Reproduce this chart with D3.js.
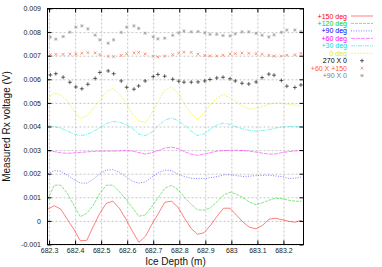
<!DOCTYPE html>
<html>
<head>
<meta charset="utf-8">
<script src="https://cdn.jsdelivr.net/npm/d3@7/dist/d3.min.js"></script>
<style>
body { margin: 0; background: #fff; }
svg { display: block; font-family: "Liberation Sans", Arial, sans-serif; }
.grid line { stroke: #b8b8b8; stroke-dasharray: 2,2; stroke-width: 0.8; }
.grid path { display: none; }
.axis path { display: none; }
.axis line { stroke: #000; }
.axis text { font-size: 7px; fill: #222; }
.frame { fill: none; stroke: #000; stroke-width: 1; }
.axis-label { font-size: 10px; fill: #111; }
.legend text { font-size: 7px; }
</style>
</head>
<body>
<svg id="chart" width="382" height="267"></svg>
<script>
// depths for the line series (m)
const depth = [682.295, 682.32, 682.345, 682.37, 682.395, 682.42, 682.445, 682.47, 682.495, 682.52,
    682.545, 682.57, 682.595, 682.62, 682.645, 682.67, 682.695, 682.72, 682.745, 682.77,
    682.795, 682.82, 682.845, 682.87, 682.895, 682.92, 682.945, 682.97, 682.995, 683.02,
    683.045, 683.07, 683.095, 683.12, 683.145, 683.17, 683.195, 683.22, 683.245, 683.27];

// depths for the point series (m)
const pointDepth = [682.305, 682.326, 682.354, 682.380, 682.403, 682.426, 682.449, 682.477, 682.495, 682.527,
    682.548, 682.577, 682.598, 682.626, 682.644, 682.669, 682.700, 682.718, 682.744, 682.775,
    682.798, 682.818, 682.846, 682.872, 682.898, 682.918, 682.944, 682.968, 682.995, 683.015,
    683.041, 683.067, 683.095, 683.118, 683.144, 683.164, 683.192, 683.213, 683.244, 683.267];

// measured voltages (V)
const deg150 = [0.000495, 0.000643, 0.000495, 0.000070, -0.000355, -0.000843, -0.000822, -0.000227, 0.000325, 0.000749,
    0.000834, 0.000537, 0.000070, -0.000439, -0.000907, -0.000652, -0.000142, 0.000325, 0.000792, 0.000834,
    0.000580, 0.000113, -0.000312, -0.000567, -0.000503, -0.000185, 0.000197, 0.000537, 0.000537, 0.000240,
    -0.000057, -0.000270, -0.000333, -0.000185, 0.000070, 0.000113, 0.000049, -0.000015, -0.000057, 0.000028];

const deg120 = [0.000919, 0.001514, 0.001514, 0.001174, 0.000665, 0.000176, 0.000325, 0.000665, 0.001174, 0.001514,
    0.001514, 0.001238, 0.000919, 0.000558, 0.000197, 0.000261, 0.000622, 0.001004, 0.001386, 0.001514,
    0.001323, 0.001004, 0.000707, 0.000473, 0.000452, 0.000558, 0.000813, 0.001089, 0.001217, 0.001132,
    0.000983, 0.000792, 0.000686, 0.000771, 0.000877, 0.000962, 0.000941, 0.000877, 0.000834, 0.000834];

const deg90 = [0.002002, 0.002130, 0.002108, 0.001938, 0.001747, 0.001607, 0.001599, 0.001769, 0.002002, 0.002151,
    0.002172, 0.002066, 0.001875, 0.001684, 0.001599, 0.001662, 0.001854, 0.002045, 0.002151, 0.002130,
    0.001981, 0.001875, 0.001811, 0.001790, 0.001798, 0.001832, 0.001875, 0.001947, 0.001960, 0.001917,
    0.001883, 0.001896, 0.001917, 0.001930, 0.001938, 0.001904, 0.001875, 0.001798, 0.001811, 0.001862];

const deg60 = [0.002979, 0.002936, 0.002885, 0.002864, 0.002881, 0.002902, 0.002924, 0.002945, 0.002958, 0.002958,
    0.002958, 0.002966, 0.002979, 0.002958, 0.002894, 0.002830, 0.002894, 0.002979, 0.003085, 0.003127,
    0.003064, 0.002936, 0.002830, 0.002779, 0.002830, 0.002894, 0.002958, 0.002979, 0.002992, 0.002992,
    0.002979, 0.002958, 0.002915, 0.002864, 0.002830, 0.002839, 0.002894, 0.002936, 0.002966, 0.002987];

const deg30 = [0.004040, 0.003998, 0.003934, 0.003807, 0.003679, 0.003616, 0.003658, 0.003786, 0.003955, 0.004125,
    0.004210, 0.004189, 0.004083, 0.003913, 0.003679, 0.003616, 0.003764, 0.004040, 0.004274, 0.004359,
    0.004253, 0.004062, 0.003807, 0.003616, 0.003679, 0.003892, 0.004062, 0.004146, 0.004083, 0.003977,
    0.003892, 0.003828, 0.003807, 0.003828, 0.003870, 0.003934, 0.003977, 0.003998, 0.003998, 0.003977];

const deg0 = [0.005187, 0.005420, 0.005335, 0.005081, 0.004656, 0.004338, 0.004444, 0.004741, 0.005123, 0.005463,
    0.005611, 0.005378, 0.004996, 0.004529, 0.004231, 0.004168, 0.004571, 0.005081, 0.005548, 0.005675,
    0.005420, 0.004953, 0.004550, 0.004295, 0.004571, 0.004953, 0.005208, 0.005365, 0.005208, 0.005038,
    0.004847, 0.004741, 0.004783, 0.004847, 0.004953, 0.004996, 0.004983, 0.004932, 0.004911, 0.004868];

const cross270x0 = [0.006185, 0.006236, 0.006087, 0.005875, 0.005675, 0.005599, 0.005790, 0.006036, 0.006291, 0.006355,
    0.006236, 0.005930, 0.005662, 0.005582, 0.005718, 0.005930, 0.006113, 0.006206, 0.006130, 0.006002,
    0.005917, 0.005879, 0.005879, 0.005887, 0.005930, 0.005994, 0.006057, 0.006087, 0.006023, 0.005930,
    0.005832, 0.005803, 0.005887, 0.006070, 0.006219, 0.006176, 0.005951, 0.005709, 0.005654, 0.005760];

const cross60x150 = [0.007047, 0.007055, 0.007055, 0.007068, 0.007076, 0.007106, 0.007132, 0.007119, 0.007047, 0.006970,
    0.006962, 0.007013, 0.007085, 0.007119, 0.007140, 0.007076, 0.006970, 0.006949, 0.006979, 0.007047,
    0.007106, 0.007149, 0.007140, 0.007064, 0.007013, 0.006992, 0.006992, 0.007021, 0.007076, 0.007089,
    0.007110, 0.007098, 0.007085, 0.007064, 0.007013, 0.006983, 0.006983, 0.007021, 0.007042, 0.007098];

const cross90x0 = [0.007786, 0.007701, 0.007811, 0.007998, 0.008210, 0.008265, 0.008138, 0.007870, 0.007671, 0.007531,
    0.007671, 0.007989, 0.008210, 0.008265, 0.008159, 0.007955, 0.007798, 0.007713, 0.007743, 0.007862,
    0.007968, 0.008045, 0.008011, 0.008023, 0.007968, 0.007904, 0.007904, 0.007854, 0.007841, 0.007926,
    0.008011, 0.008011, 0.007947, 0.007870, 0.007798, 0.007883, 0.007989, 0.008087, 0.008087, 0.008023];

const xTicks = [682.3, 682.4, 682.5, 682.6, 682.7, 682.8, 682.9, 683.0, 683.1, 683.2];
const xTickLabels = ['682.3', '682.4', '682.5', '682.6', '682.7', '682.8', '682.9', '683', '683.1', '683.2'];
const yTicks = [-0.001, 0, 0.001, 0.002, 0.003, 0.004, 0.005, 0.006, 0.007, 0.008, 0.009];
const yTickLabels = ['-0.001', '0', '0.001', '0.002', '0.003', '0.004', '0.005', '0.006', '0.007', '0.008', '0.009'];

const lineNames = ['+150 deg', '+120 deg', '+90 deg', '+60 deg', '+30 deg', '0 deg'];
const pointNames = ['270 X 0', '+60 X +150', '+90 X 0'];

drawChart();

function drawChart() {
    const margin = {top: 8.5, right: 78.5, bottom: 22.5, left: 47.5};
    const width = 382 - margin.left - margin.right;
    const height = 267 - margin.top - margin.bottom;

    const svg = d3.select('#chart')
        .append('g')
        .attr('transform', `translate(${margin.left},${margin.top})`);

    const x = d3.scaleLinear()
        .domain([682.294, 683.277])
        .range([0, width]);

    const y = d3.scaleLinear()
        .domain([-0.001, 0.009])
        .range([height, 0]);

    // grid lines
    svg.append('g')
        .attr('class', 'grid')
        .call(d3.axisLeft(y).tickValues(yTicks).tickSize(-width).tickFormat(''));

    svg.append('g')
        .attr('class', 'grid')
        .attr('transform', `translate(0,${height})`)
        .call(d3.axisBottom(x).tickValues(xTicks).tickSize(-height).tickFormat(''));

    // line series
    const lineStyles = [
        {color: '#ff0000', dash: null},
        {color: '#00d000', dash: '3,1'},
        {color: '#0000ff', dash: '1,1.5'},
        {color: '#ff00ff', dash: '4,1'},
        {color: '#00e0e0', dash: '4,1,1,1'},
        {color: '#e8e800', dash: '2,1'}
    ];
    const lineValues = [deg150, deg120, deg90, deg60, deg30, deg0];

    const line = d3.line()
        .x(d => x(d[0]))
        .y(d => y(d[1]));

    lineValues.forEach((vals, i) => {
        svg.append('path')
            .datum(depth.map((d, j) => [d, vals[j]]))
            .attr('fill', 'none')
            .attr('stroke', lineStyles[i].color)
            .attr('stroke-opacity', 0.5)
            .attr('stroke-width', 1)
            .attr('stroke-dasharray', lineStyles[i].dash)
            .attr('d', line);
    });

    // point series
    const pointStyles = [
        {color: '#000000', shape: 'plus'},
        {color: '#ff6a40', shape: 'cross'},
        {color: '#a0a0a0', shape: 'star'}
    ];
    const pointValues = [cross270x0, cross60x150, cross90x0];

    pointValues.forEach((vals, i) => {
        const g = svg.append('g');
        pointDepth.forEach((d, j) => {
            drawMarker(g, x(d), y(vals[j]), pointStyles[i]);
        });
    });

    // axes, ticks inward on all sides
    svg.append('g')
        .attr('class', 'axis')
        .call(d3.axisLeft(y).tickValues(yTicks).tickSize(-4).tickPadding(6.5)
            .tickFormat((d, i) => yTickLabels[i]));

    svg.append('g')
        .attr('class', 'axis')
        .attr('transform', `translate(${width},0)`)
        .call(d3.axisRight(y).tickValues(yTicks).tickSize(-4).tickFormat(''));

    svg.append('g')
        .attr('class', 'axis')
        .attr('transform', `translate(0,${height})`)
        .call(d3.axisBottom(x).tickValues(xTicks).tickSize(-4).tickPadding(3.5)
            .tickFormat((d, i) => xTickLabels[i]));

    svg.append('g')
        .attr('class', 'axis')
        .call(d3.axisTop(x).tickValues(xTicks).tickSize(-4).tickFormat(''));

    svg.append('rect')
        .attr('class', 'frame')
        .attr('width', width)
        .attr('height', height);

    // axis labels
    svg.append('text')
        .attr('class', 'axis-label')
        .attr('text-anchor', 'middle')
        .attr('x', width / 2)
        .attr('y', height + 20.5)
        .text('Ice Depth (m)');

    svg.append('text')
        .attr('class', 'axis-label')
        .attr('text-anchor', 'middle')
        .attr('transform', 'rotate(-90)')
        .attr('x', -height / 2)
        .attr('y', -38)
        .text('Measured Rx voltage (V)');

    // legend
    const legend = d3.select('#chart').append('g')
        .attr('class', 'legend');
    const rowY = i => 16 + i * 7.45;

    lineNames.forEach((name, i) => {
        legend.append('text')
            .attr('x', 347)
            .attr('y', rowY(i) + 2.5)
            .attr('text-anchor', 'end')
            .attr('fill', lineStyles[i].color)
            .text(name);
        legend.append('line')
            .attr('x1', 351).attr('x2', 373)
            .attr('y1', rowY(i)).attr('y2', rowY(i))
            .attr('stroke', lineStyles[i].color)
            .attr('stroke-opacity', 0.5)
            .attr('stroke-dasharray', lineStyles[i].dash);
    });

    const pointLabelColors = ['#000000', '#ff5a30', '#808080'];
    pointNames.forEach((name, i) => {
        const r = lineNames.length + i;
        legend.append('text')
            .attr('x', 347)
            .attr('y', rowY(r) + 2.5)
            .attr('text-anchor', 'end')
            .attr('fill', pointLabelColors[i])
            .text(name);
        drawMarker(legend, 362, rowY(r), pointStyles[i]);
    });
}

function drawMarker(g, cx, cy, style) {
    const s = style.shape === 'plus' ? 2 : 1.6;
    const d = 1.4;
    const segs = [];
    if (style.shape === 'plus' || style.shape === 'star') {
        segs.push([cx - s, cy, cx + s, cy], [cx, cy - s, cx, cy + s]);
    }
    if (style.shape === 'cross' || style.shape === 'star') {
        segs.push([cx - d, cy - d, cx + d, cy + d], [cx - d, cy + d, cx + d, cy - d]);
    }
    segs.forEach(p => {
        g.append('line')
            .attr('x1', p[0]).attr('y1', p[1])
            .attr('x2', p[2]).attr('y2', p[3])
            .attr('stroke', style.color)
            .attr('stroke-opacity', style.shape === 'plus' ? 0.75 : 0.85)
            .attr('stroke-width', 0.8);
    });
}
</script>
</body>
</html>
